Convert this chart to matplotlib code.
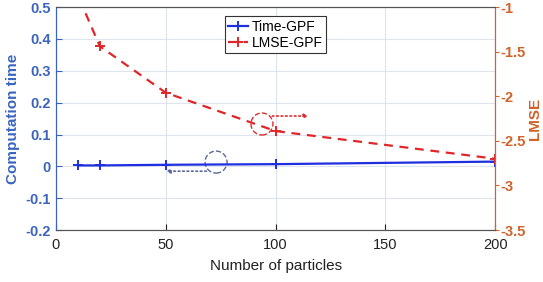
import matplotlib.pyplot as plt
from matplotlib.patches import Ellipse

plt.rcParams['font.family'] = ['Liberation Sans', 'DejaVu Sans']

# data
particles = [10, 20, 50, 100, 200]
time_gpf = [0.003, 0.003, 0.005, 0.007, 0.015]
lmse_gpf = [-0.87, -1.44, -1.96, -2.39, -2.70]

blue = '#3a64c0'
orange = '#d0622a'
ann_blue = '#5a6a9c'
ann_red = '#d93030'

fig = plt.figure(figsize=(5.43, 2.82), dpi=100)
ax = fig.add_axes([0.103, 0.184, 0.809, 0.791])
ax2 = ax.twinx()

l1, = ax.plot(particles, time_gpf, '-+', color='#1f2fe0', lw=1.6, ms=7, mew=1.4)
l2, = ax2.plot(particles, lmse_gpf, '--+', color='#e0262a', lw=1.6, ms=7, mew=1.4,
               dashes=(4, 3))

ax.set_xlim(0, 200)
ax.set_ylim(-0.2, 0.5)
ax2.set_ylim(-3.5, -1)
ax.set_xticks([0, 50, 100, 150, 200])
ax.set_yticks([-0.2, -0.1, 0, 0.1, 0.2, 0.3, 0.4, 0.5])
ax.set_yticklabels(['-0.2', '-0.1', '0', '0.1', '0.2', '0.3', '0.4', '0.5'])
ax2.set_yticks([-3.5, -3, -2.5, -2, -1.5, -1])
ax2.set_yticklabels(['-3.5', '-3', '-2.5', '-2', '-1.5', '-1'])

ax.grid(True, color='#dde4ee', lw=0.8)
ax.set_axisbelow(True)

ax.set_xlabel('Number of particles', fontsize=11, color='#222222', labelpad=5)
ax.set_ylabel('Computation time', fontsize=11, color=blue, fontweight='bold', labelpad=4)
ax2.set_ylabel('LMSE', fontsize=11, color=orange, fontweight='bold', labelpad=1)

ax.tick_params(axis='x', colors='#222222', labelsize=10.5, direction='in', length=4, pad=6)
ax.tick_params(axis='y', colors=blue, labelsize=10.5, direction='in', length=4)
ax2.tick_params(axis='y', colors=orange, labelsize=10.5, direction='out', length=3, pad=1)
for t in ax.get_yticklabels():
    t.set_fontweight('bold')
for t in ax2.get_yticklabels():
    t.set_fontweight('bold')

for a in (ax, ax2):
    a.spines['top'].set_color('#555555')
    a.spines['bottom'].set_color('#555555')
    a.spines['left'].set_color(blue)
    a.spines['right'].set_color(orange)

# annotation circles and arrows
ax.add_patch(Ellipse((72.9, 0.0135), 10, 0.069, fill=False, ec=ann_blue, ls='--', lw=1))
ax.annotate('', xy=(50, -0.015), xytext=(68.5, -0.015),
            arrowprops=dict(arrowstyle='-|>', color=ann_blue, ls=':', lw=1.2,
                            mutation_scale=6, shrinkA=0, shrinkB=0))
ax.add_patch(Ellipse((93.8, 0.133), 10, 0.069, fill=False, ec=ann_red, ls='--', lw=1))
ax.annotate('', xy=(115, 0.158), xytext=(98.5, 0.158),
            arrowprops=dict(arrowstyle='-|>', color=ann_red, ls=':', lw=1.2,
                            mutation_scale=6, shrinkA=0, shrinkB=0))

leg = ax.legend([l1, l2], ['Time-GPF', 'LMSE-GPF'], loc='upper center',
                bbox_to_anchor=(0.5, 0.99), fontsize=10, handlelength=1.4,
                handletextpad=0.3, borderpad=0.25, labelspacing=0.15,
                fancybox=False, framealpha=1)
leg.get_frame().set_edgecolor('#333333')
leg.get_frame().set_linewidth(0.8)

plt.savefig('out.png', dpi=100)
